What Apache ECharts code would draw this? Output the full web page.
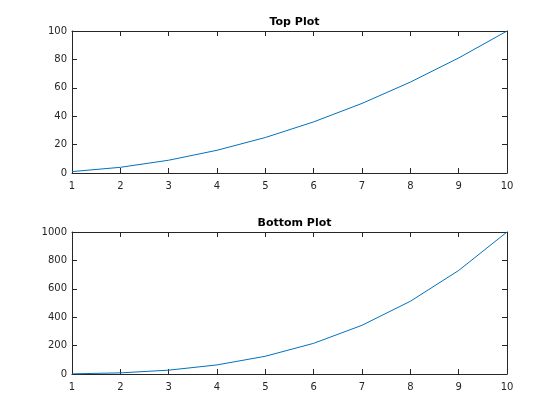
<!DOCTYPE html>
<html><head><meta charset="utf-8">
<script src="https://cdn.jsdelivr.net/npm/echarts@6/dist/echarts.min.js"></script>
<style>html,body{margin:0;padding:0;background:#fff}#c{width:560px;height:420px}</style>
</head><body><div id="c"></div>
<script>
const xValues = [1,2,3,4,5,6,7,8,9,10];
const topValues = [1,4,9,16,25,36,49,64,81,100];
const bottomValues = [1,8,27,64,125,216,343,512,729,1000];
const titles = ['Top Plot','Bottom Plot'];

const axisColor = '#262626';
const font = 'DejaVu Sans, sans-serif';
const grids = [
  {left:72, top:31, width:435, height:142},
  {left:72, top:232, width:435, height:142}
];
function xAx(gi, pos, labels){
  return {type:'value', gridIndex:gi, position:pos, min:1, max:10, interval:1,
    axisLine:{show:true, onZero:false, lineStyle:{color:axisColor, width:1}},
    axisTick:{show:true, inside:true, length:5, lineStyle:{color:axisColor}},
    axisLabel:{show:labels, color:axisColor, fontSize:10, fontFamily:font, margin:8},
    splitLine:{show:false}};
}
function yAx(gi, pos, labels, max, interval){
  return {type:'value', gridIndex:gi, position:pos, min:0, max:max, interval:interval,
    axisLine:{show:true, onZero:false, lineStyle:{color:axisColor, width:1}},
    axisTick:{show:true, inside:true, length:5, lineStyle:{color:axisColor}},
    axisLabel:{show:labels, color:axisColor, fontSize:10, fontFamily:font, margin:5, formatter:v=>String(v)},
    splitLine:{show:false}};
}
const chart = echarts.init(document.getElementById('c'));
chart.setOption({
  animation:false,
  title: titles.map((t,i)=>({text:t, left:289.5, textAlign:'center', top: i===0 ? 12 : 213,
    textStyle:{fontSize:11, fontWeight:'bold', color:'#000', fontFamily:font}})),
  grid: grids,
  xAxis: [xAx(0,'bottom',true), xAx(0,'top',false), xAx(1,'bottom',true), xAx(1,'top',false)],
  yAxis: [yAx(0,'left',true,100,20), yAx(0,'right',false,100,20), yAx(1,'left',true,1000,200), yAx(1,'right',false,1000,200)],
  series: [
    {type:'line', xAxisIndex:0, yAxisIndex:0, data:xValues.map((x,i)=>[x,topValues[i]]), showSymbol:false,
      lineStyle:{color:'#0072BD', width:1}, itemStyle:{color:'#0072BD'}},
    {type:'line', xAxisIndex:2, yAxisIndex:2, data:xValues.map((x,i)=>[x,bottomValues[i]]), showSymbol:false,
      lineStyle:{color:'#0072BD', width:1}, itemStyle:{color:'#0072BD'}}
  ]
});
</script></body></html>
